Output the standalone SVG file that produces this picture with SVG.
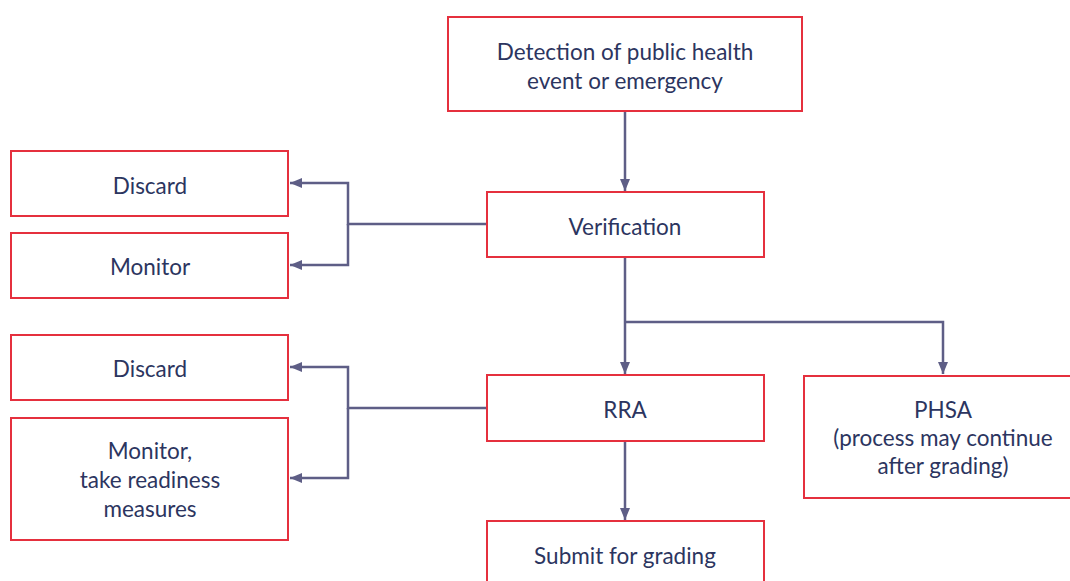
<svg xmlns="http://www.w3.org/2000/svg" width="1070" height="581" viewBox="0 0 1070 581">
<style>
.box{fill:#fff;stroke:#e5303e;stroke-width:2}
.t{font-family:Lato,"Noto Sans",sans-serif;font-size:22.5px;fill:#2c3560;text-anchor:middle}
.c{fill:none;stroke:#5e5e86;stroke-width:2.5}
</style>
<defs>
<marker id="ah" markerWidth="12" markerHeight="10" refX="12" refY="5" orient="auto" markerUnits="userSpaceOnUse">
<path d="M0,0 L12,5 L0,10 Z" fill="#5e5e86"/>
</marker>
</defs>
<rect width="1070" height="581" fill="#fff"/>
<g id="connectors">
<path class="c" d="M625,111 V191" marker-end="url(#ah)"/>
<path class="c" d="M486,224 H348 V183 H290" marker-end="url(#ah)"/>
<path class="c" d="M348,224 V265 H290" marker-end="url(#ah)"/>
<path class="c" d="M625,257 V374" marker-end="url(#ah)"/>
<path class="c" d="M625,322 H943 V374" marker-end="url(#ah)"/>
<path class="c" d="M486,408 H348 V367 H290" marker-end="url(#ah)"/>
<path class="c" d="M348,408 V478 H290" marker-end="url(#ah)"/>
<path class="c" d="M625,441 V520" marker-end="url(#ah)"/>
</g>
<g id="detection">
<rect class="box" x="448" y="17" width="354" height="94"/>
<text class="t" x="625" y="60">Detection of public health</text>
<text class="t" x="625" y="89">event or emergency</text>
</g>
<g id="verification">
<rect class="box" x="487" y="192" width="277" height="65"/>
<text class="t" x="625" y="234.5">Verification</text>
</g>
<g id="discard1">
<rect class="box" x="11" y="151" width="277" height="65"/>
<text class="t" x="150" y="193.5">Discard</text>
</g>
<g id="monitor1">
<rect class="box" x="11" y="233" width="277" height="65"/>
<text class="t" x="150" y="274.5">Monitor</text>
</g>
<g id="discard2">
<rect class="box" x="11" y="335" width="277" height="65"/>
<text class="t" x="150" y="376.5">Discard</text>
</g>
<g id="monitor2">
<rect class="box" x="11" y="418" width="277" height="122"/>
<text class="t" x="150" y="459">Monitor,</text>
<text class="t" x="150" y="488">take readiness</text>
<text class="t" x="150" y="517">measures</text>
</g>
<g id="rra">
<rect class="box" x="487" y="375" width="277" height="66"/>
<text class="t" x="625" y="417.5">RRA</text>
</g>
<g id="phsa">
<rect class="box" x="804" y="376" width="280" height="122"/>
<text class="t" x="943" y="418">PHSA</text>
<text class="t" x="943" y="446">(process may continue</text>
<text class="t" x="943" y="474">after grading)</text>
</g>
<g id="submit">
<rect class="box" x="487" y="521" width="277" height="80"/>
<text class="t" x="625" y="564">Submit for grading</text>
</g>
</svg>
